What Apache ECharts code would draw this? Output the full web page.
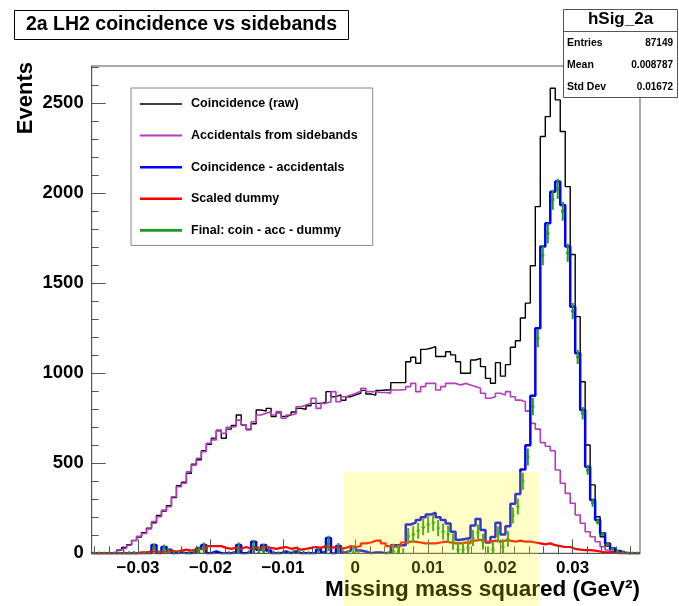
<!DOCTYPE html>
<html><head><meta charset="utf-8">
<script src="https://cdn.jsdelivr.net/npm/echarts@6/dist/echarts.min.js"></script>
<style>html,body{margin:0;padding:0;background:#fff}#c{width:679px;height:606px}</style>
</head><body><div id="c"></div>
<script>
// ---- histogram binning ----
const X_MIN = -0.0364, X_MAX = 0.0393, N_BINS = 110;
const Y_MAX = 2707;

// ---- data (bin contents, left to right) ----
const rawCounts = [0,0,0,0,3,18,32,48,72,90,
115,140,170,210,235,265,310,375,395,445,
495,520,570,605,640,680,639,690,710,768,
713,690,720,796,790,805,760,780,760,768,
785,805,800,820,833,833,840,898,870,880,
850,870,880,890,905,885,879,905,907,907,
948,948,948,1064,1089,1056,1133,1139,1148,1093,
1093,1120,1102,1064,1000,1000,1074,1083,1037,972,
945,1059,984,1048,1145,1181,1307,1390,1597,1926,
2315,2426,2583,2519,2343,2037,1660,1315,953,602,
380,203,92,40,10,0,0,0,0,0];
const accCounts = [0,0,0,0,5,20,30,45,70,95,
110,135,176,203,240,259,314,370,389,453,
490,528,565,611,630,685,666,700,705,740,
713,685,731,768,778,787,768,787,750,768,
775,814,824,833,861,805,833,842,898,842,
870,879,889,900,917,898,898,893,893,890,
907,907,910,926,944,898,926,944,944,907,
926,944,944,935,944,935,926,917,889,861,
870,889,879,898,870,851,842,790,722,690,
615,595,570,463,389,333,278,213,167,120,
92,64,37,18,5,0,0,0,0,0];
const subCounts = [0,0,0,0,0,0,0,0,0,0,
0,0,46,0,35,20,0,5,0,0,
5,30,46,0,10,0,0,0,5,46,
0,5,64,20,46,15,0,0,10,0,
10,0,0,0,0,20,5,85,0,40,
5,15,35,15,10,0,5,5,0,5,
45,45,45,160,170,185,200,215,225,200,
185,165,120,75,80,85,155,190,130,60,
90,170,105,150,275,330,465,600,875,1250,
1704,1833,2009,2065,1935,1704,1370,1111,796,481,
296,185,111,55,28,13,3,0,0,0];
const dummyCounts = [0,0,0,0,0,0,0,0,0,5,
5,10,10,5,10,15,10,15,20,15,
20,25,20,40,40,40,30,25,30,25,
35,25,30,20,35,30,25,30,35,25,
30,20,25,30,35,30,40,30,35,25,
30,40,35,40,55,60,70,70,55,40,
35,40,60,65,65,60,55,55,55,60,
65,60,55,55,60,55,70,75,65,65,
70,65,70,70,65,70,65,65,60,55,
50,55,45,40,35,35,25,20,18,18,
15,10,5,5,3,0,0,0,0,0];
const finalCounts = [0,0,0,0,0,0,0,0,0,-5,
-5,-10,36,-5,25,5,-10,-10,-20,-15,
-15,5,26,-40,-30,-40,-30,-25,-25,21,
-35,-20,34,0,11,-15,-25,-30,-25,-25,
-20,-20,-25,-30,-35,-10,-35,55,-35,15,
-25,-25,0,-25,-45,-60,-65,-65,-55,-35,
10,5,-15,95,105,125,145,160,170,140,
120,105,65,20,20,30,85,115,65,-5,
20,105,35,80,210,260,400,535,815,1195,
1654,1778,1964,2025,1900,1669,1345,1091,778,463,
281,175,106,50,25,13,3,0,0,0];
const finalErrors = [0,0,0,0,3,6,8,10,12,14,
15,17,19,20,22,23,25,27,28,30,
31,32,34,35,36,37,36,37,38,39,
38,37,38,39,40,40,39,40,39,39,
40,40,40,41,41,41,41,42,42,42,
42,42,42,42,43,42,42,42,43,43,
43,43,43,45,45,44,45,46,46,45,
45,46,45,45,44,44,45,45,44,43,
43,44,43,44,45,45,47,47,48,51,
54,55,56,55,53,50,45,40,35,27,
22,15,11,8,4,3,2,0,0,0];

// ---- labels ----
const seriesNames = ['Coincidence (raw)','Accidentals from sidebands','Coincidence - accidentals','Scaled dummy','Final: coin - acc - dummy'];
const xTickValues = [-0.03,-0.02,-0.01,0,0.01,0.02,0.03];
const xTickLabels = ['\u22120.03','\u22120.02','\u22120.01','0','0.01','0.02','0.03'];
const yTickValues = [0,500,1000,1500,2000,2500];
const yTickLabels = ['0','500','1000','1500','2000','2500'];
const chartTitle = '2a LH2 coincidence vs sidebands';
const xTitle = 'Missing mass squared (GeV\u00B2)';
const yTitle = 'Events';
const statsName = 'hSig_2a';
const statsLabels = ['Entries','Mean','Std Dev'];
const statsValues = ['87149','0.008787','0.01672'];
const highlightX = [-0.0016, 0.0253];
const highlightTop = 453;

// ---- build ----
const FONT = '"Liberation Sans", Arial, Helvetica, sans-serif';
const COLORS = ['#000000','#b43cbc','#0000ff','#ff0000','#1f9a1f'];
const TICK = '#555';
const BIN_W = (X_MAX - X_MIN) / N_BINS;
function stepData(vals){
  const d = vals.map((v,i)=>[X_MIN + i*BIN_W, v]);
  d.push([X_MAX, vals[vals.length-1]]);
  return d;
}
const xMinor = [];
for (let i=-18;i<=19;i++){ const v = +(i*0.002).toFixed(4); if (Math.abs(v*100-Math.round(v*100))>1e-6) xMinor.push(v); }
const yMinor = [];
for (let v=100; v<Y_MAX; v+=100){ if (v%500!==0) yMinor.push(v); }
const greenData = finalCounts.map((v,i)=>[X_MIN + (i+0.5)*BIN_W, v, finalErrors[i]]);

const chart = echarts.init(document.getElementById('c'), null, {renderer:'canvas'});
const lineSeries = (idx, vals, width) => ({
  name: seriesNames[idx], type:'line', step:'end', data: stepData(vals),
  symbol:'none', clip:true, animation:false,
  lineStyle:{color:COLORS[idx], width:width}, itemStyle:{color:COLORS[idx]}, z: 2+idx
});
const legendIcons = ['path://M0,0H42V1.3H0Z','path://M0,0H42V2H0Z','path://M0,0H42V2.6H0Z','path://M0,0H42V2.6H0Z','path://M0,0H42V2.6H0Z'];

chart.setOption({
  animation:false,
  backgroundColor:'#fff',
  title:{
    text: chartTitle, left:14, top:10,
    padding:[5,12,5,12], borderColor:'#000', borderWidth:1, backgroundColor:'#fff',
    textStyle:{fontFamily:FONT, fontWeight:'bold', fontSize:19.5, color:'#000'}
  },
  legend:{
    orient:'vertical', left:131, top:88,
    padding:[9,15,8,9], itemGap:17.6, itemWidth:42, itemHeight:3,
    borderColor:'#888', borderWidth:1, backgroundColor:'#fff', selectedMode:false,
    textStyle:{fontFamily:FONT, fontWeight:'bold', fontSize:12.5, color:'#000', lineHeight:14, padding:[0,0,0,4]},
    data: seriesNames.map((n,i)=>({name:n, icon:legendIcons[i], itemStyle:{color:COLORS[i]}}))
  },
  grid:{left:91.7, right:39, top:66, bottom:52.7, show:true, borderColor:'#555', borderWidth:1},
  xAxis:[{
    type:'value', min:X_MIN, max:X_MAX, position:'bottom', z:20,
    axisLine:{show:true, onZero:false, lineStyle:{color:'#555'}},
    axisTick:{show:true, inside:true, length:14, customValues:xTickValues, lineStyle:{color:TICK, width:1}},
    axisLabel:{show:true, customValues:xTickValues, margin:7,
      formatter:v=>{const i=xTickValues.findIndex(t=>Math.abs(t-v)<1e-9); return i>=0?xTickLabels[i]:'';},
      fontFamily:FONT, fontWeight:'bold', fontSize:17, color:'#000'},
    splitLine:{show:false},
    name:xTitle, nameLocation:'end', nameGap:0,
    nameTextStyle:{fontFamily:FONT, fontWeight:'bold', fontSize:22.5, color:'#000', align:'right', verticalAlign:'top', padding:[25,0,0,0]}
  },{
    type:'value', min:X_MIN, max:X_MAX, position:'bottom', z:20,
    axisLine:{show:false, onZero:false}, axisLabel:{show:false}, splitLine:{show:false},
    axisTick:{show:true, inside:true, length:7, customValues:xMinor, lineStyle:{color:TICK, width:1}}
  }],
  yAxis:[{
    type:'value', min:0, max:Y_MAX, position:'left',
    axisLine:{show:true, onZero:false, lineStyle:{color:'#555'}},
    axisTick:{show:true, inside:true, length:14, customValues:yTickValues, lineStyle:{color:TICK}},
    axisLabel:{show:true, customValues:yTickValues, margin:8,
      formatter:v=>{const i=yTickValues.indexOf(v); return i>=0?yTickLabels[i]:'';},
      fontFamily:FONT, fontWeight:'bold', fontSize:18.5, color:'#000'},
    splitLine:{show:false}
  },{
    type:'value', min:0, max:Y_MAX, position:'left',
    axisLine:{show:false, onZero:false}, axisLabel:{show:false}, splitLine:{show:false},
    axisTick:{show:true, inside:true, length:7, customValues:yMinor, lineStyle:{color:TICK}}
  }],
  series:[
    lineSeries(0, rawCounts, 1.4),
    lineSeries(1, accCounts, 1.6),
    lineSeries(2, subCounts, 2.5),
    lineSeries(3, dummyCounts, 2.2),
    {
      name: seriesNames[4], type:'custom', clip:true, z:7,
      itemStyle:{color:COLORS[4]},
      data: greenData,
      renderItem:(params, api)=>{
        const x=api.value(0), y=api.value(1), e=api.value(2);
        const c=api.coord([x,y]), t=api.coord([x,y+e]), b=api.coord([x,y-e]);
        return {type:'group', children:[
          {type:'line', shape:{x1:c[0],y1:t[1],x2:c[0],y2:b[1]}, style:{stroke:COLORS[4], lineWidth:2}},
          {type:'circle', shape:{cx:c[0],cy:c[1],r:1.7}, style:{fill:COLORS[4]}}
        ]};
      }
    }
  ]
});

// y title, stats box and highlight overlay
const pTop = chart.convertToPixel({xAxisIndex:0, yAxisIndex:0}, [highlightX[0], highlightTop]);
const pBot = chart.convertToPixel({xAxisIndex:0, yAxisIndex:0}, [highlightX[1], 0]);
const pAxisTop = chart.convertToPixel({xAxisIndex:0, yAxisIndex:0}, [X_MIN, Y_MAX]);
const W = chart.getWidth(), H = chart.getHeight();
const statsChildren = [
  {type:'rect', shape:{x:563.5, y:9.5, width:114, height:88}, style:{fill:'#fff', stroke:'#555', lineWidth:1}},
  {type:'line', shape:{x1:563.5, y1:31.5, x2:677.5, y2:31.5}, style:{stroke:'#555', lineWidth:1}},
  {type:'text', style:{text:statsName, x:620.5, y:19.5, align:'center', verticalAlign:'middle', font:'bold 17px '+FONT, fill:'#000'}}
];
statsLabels.forEach((l,i)=>{
  const yy = 43.5 + i*22;
  statsChildren.push({type:'text', style:{text:l, x:567, y:yy, align:'left', verticalAlign:'middle', font:'bold 10.5px '+FONT, fill:'#000'}});
  statsChildren.push({type:'text', style:{text:statsValues[i], x:673, y:yy, align:'right', verticalAlign:'middle', font:'bold 10px '+FONT, fill:'#000'}});
});
chart.setOption({
  graphic:[
    {type:'text', z:40, rotation:Math.PI/2, x:26, y:pAxisTop[1]-4,
      style:{text:yTitle, align:'right', verticalAlign:'middle', font:'bold 22px '+FONT, fill:'#000'}},
    {type:'group', z:50, children:statsChildren},
    {type:'rect', z:100, silent:true, shape:{x:pTop[0], y:pTop[1], width:pBot[0]-pTop[0], height:H-pTop[1]}, style:{fill:'rgba(255,255,0,0.22)'}}
  ]
});
</script>
</body></html>
